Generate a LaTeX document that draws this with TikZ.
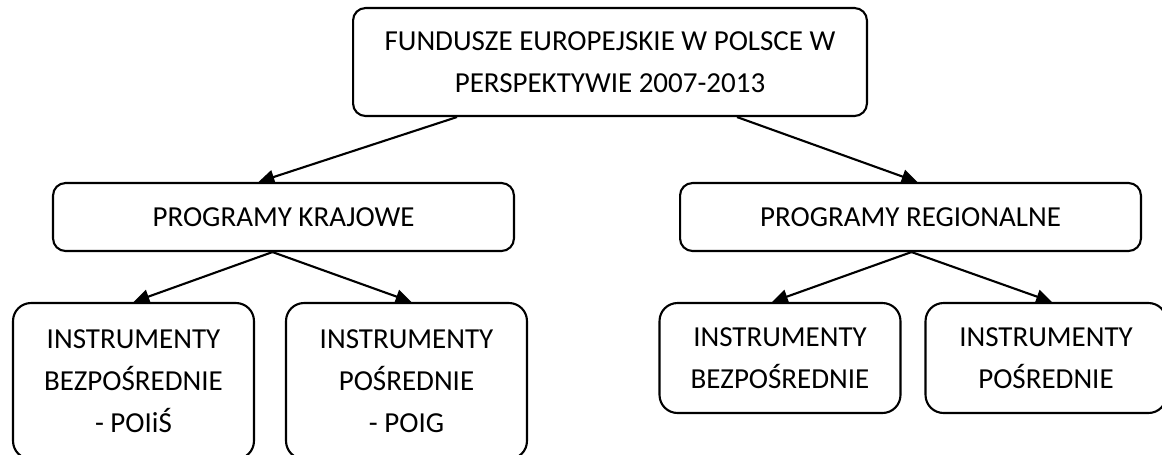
\documentclass[tikz,border=0pt]{standalone}
\usepackage{fontspec}
\setmainfont{Carlito}
\usetikzlibrary{arrows.meta,calc}

\begin{document}
\begin{tikzpicture}[x=0.02cm,y=-0.02cm,
    box/.style={draw,line width=1.2pt,rounded corners=0.25cm,align=center,inner sep=0,
      font=\fontsize{16.5}{24}\selectfont},
    lowbox/.style={box,rounded corners=0.36cm,minimum width=4.82cm},
    arr/.style={line width=1.2pt,-{Triangle[length=9pt,width=8pt]}}]
        \useasboundingbox (0,0) rectangle (1162,454);
        \node[box,minimum width=10.28cm,minimum height=2.16cm] (fe) at (610,62) {FUNDUSZE EUROPEJSKIE W POLSCE W\\PERSPEKTYWIE 2007-2013};
        \node[box,minimum width=9.22cm,minimum height=1.36cm] (pk) at (283.5,217) {PROGRAMY KRAJOWE};
        \node[box,minimum width=9.22cm,minimum height=1.36cm] (pr) at (910.5,217) {PROGRAMY REGIONALNE};
        \node[lowbox,minimum height=3.12cm] (kb) at (133.5,381) {INSTRUMENTY\\BEZPOŚREDNIE\\- POIiŚ};
        \node[lowbox,minimum height=3.12cm] (kp) at (406.5,381) {INSTRUMENTY\\POŚREDNIE\\- POIG};
        \node[lowbox,minimum height=2.2cm] (rb) at (780,358) {INSTRUMENTY\\BEZPOŚREDNIE};
        \node[lowbox,minimum height=2.2cm] (rp) at (1046,358) {INSTRUMENTY\\POŚREDNIE};
        \draw[arr] ($(fe.south)+(-153,0)$) -- ($(pk.north)+(-25,0)$);
        \draw[arr] ($(fe.south)+(127,0)$) -- ($(pr.north)+(7,0)$);
        \draw[arr] ($(pk.south)+(-11,0)$) -- (kb.north);
        \draw[arr] ($(pk.south)+(-11,0)$) -- ($(kp.north)+(5,0)$);
        \draw[arr] ($(pr.south)+(1,0)$) -- ($(rb.north)+(-8,0)$);
        \draw[arr] ($(pr.south)+(1,0)$) -- ($(rp.north)+(6,0)$);
      \end{tikzpicture}
\end{document}
